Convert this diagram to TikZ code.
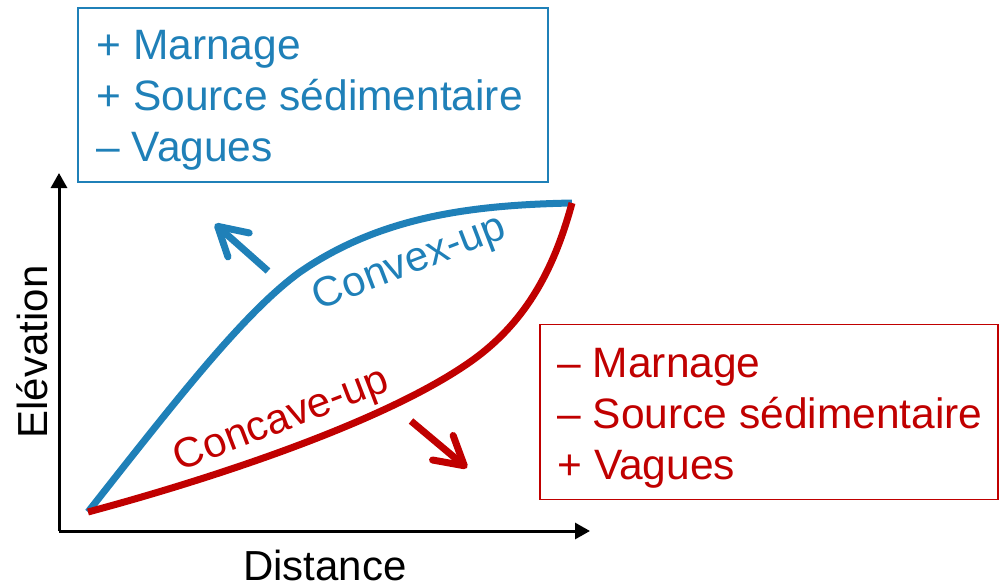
\documentclass[tikz,border=0pt]{standalone}
\usepackage{fontspec}
\setmainfont{Liberation Sans}
\usetikzlibrary{arrows.meta}
\definecolor{profblue}{RGB}{31,128,184}
\definecolor{profred}{RGB}{192,0,0}
\tikzset{
  axis/.style={line width=3pt,-{Triangle[length=15pt,width=16pt]}},
  profile/.style={line width=7pt},
  trend/.style={line width=7pt,-{Straight Barb[length=28pt,width=32pt,line width=7pt,round]}},
  factorbox/.style={draw,line width=1.5pt,inner sep=0pt},
  factors/.style={align=left,inner sep=0pt,anchor=west,font=\fontsize{42.5}{51}\selectfont},
  label/.style={font=\fontsize{42}{50}\selectfont}
}
\begin{document}
\begin{tikzpicture}[x=1pt,y=-1pt]
  \useasboundingbox (0,0) rectangle (1000,588);
  % axes
  \coordinate (o) at (59,531);
  \coordinate (ymax) at (59,173);
  \coordinate (xmax) at (590,531);
  \draw[axis] (o) -- (ymax);
  \draw[axis] (o) -- (xmax);
  \node[label,rotate=90] (elev) at (32,352) {Elévation};
  \node[label] (dist) at (325,565) {Distance};
  % profiles
  \coordinate (base) at (88,512);
  \coordinate (crest) at (572,203);
  \draw[profile,profblue] (base) .. controls (180,395) and (245,312) .. (300,272)
    .. controls (380,217) and (470,205) .. (crest);
  \draw[profile,profred] (base) .. controls (200,482) and (380,425) .. (470,362)
    .. controls (530,320) and (556,262) .. (crest);
  \node[label,profblue,rotate=21] (convex) at (410,264) {Convex-up};
  \node[label,profred,rotate=21] (concave) at (282,421) {Concave-up};
  % trends
  \coordinate (b1) at (268,271);
  \coordinate (b2) at (215,224);
  \coordinate (r1) at (411,421);
  \coordinate (r2) at (467,468);
  \draw[trend,profblue] (b1) -- (b2);
  \draw[trend,profred] (r1) -- (r2);
  % factor boxes
  \node[factorbox,profblue,minimum width=470pt,minimum height=174pt] (upbox) at (313,95) {};
  \node[factors,profblue] (uptext) at ([xshift=19pt,yshift=-5pt]upbox.west)
    {+ Marnage\\+ Source sédimentaire\\– Vagues};
  \node[factorbox,profred,minimum width=458pt,minimum height=175pt] (downbox) at (769,412) {};
  \node[factors,profred] (downtext) at ([xshift=18pt,yshift=-6pt]downbox.west)
    {– Marnage\\– Source sédimentaire\\+ Vagues};
\end{tikzpicture}
\end{document}
